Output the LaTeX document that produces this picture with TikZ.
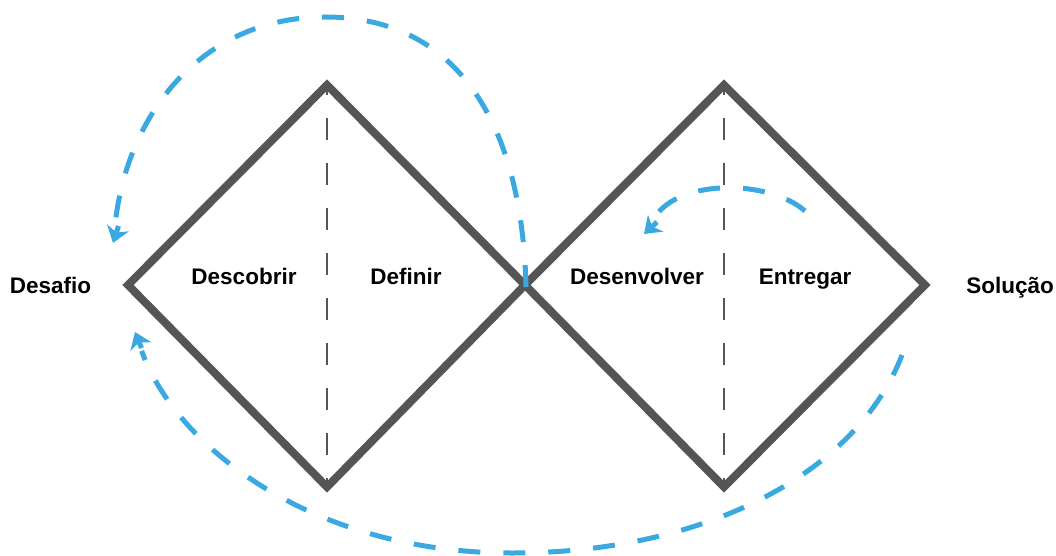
\documentclass[tikz,border=0pt]{standalone}
\usepackage{fontspec}
\setmainfont{Liberation Sans}
\usetikzlibrary{arrows.meta}
\definecolor{framegray}{HTML}{555555}
\definecolor{loopblue}{HTML}{3AA8E1}
\begin{document}
\begin{tikzpicture}[x=1pt,y=-1pt,
  diamondline/.style={draw=framegray,line width=8pt,line join=miter},
  divider/.style={draw=framegray,line width=2pt,dash pattern=on 22pt off 23pt,dash phase=12pt},
  feedback/.style={draw=loopblue,line width=5pt,dash pattern=on 22pt off 23pt,shorten >=20pt},
  feedtip/.style={draw=loopblue,line width=5pt,
    -{Stealth[length=16pt,width=23pt,inset=5pt,line width=0pt]}},
  label/.style={font=\bfseries\fontsize{22.5}{24}\selectfont,anchor=base,inner sep=0pt}]
\useasboundingbox (0,0) rectangle (1056,556);
% diamond vertices
\coordinate (L1) at (128,285);
\coordinate (T1) at (327,85);
\coordinate (B1) at (327,487);
\coordinate (M)  at (525,285);
\coordinate (T2) at (724,85);
\coordinate (B2) at (724,487);
\coordinate (R2) at (925,285);
% dashed dividers inside each diamond
\draw[divider] (T1) -- (B1);
\draw[divider] (T2) -- (B2);
% the two diamonds
\draw[diamondline] (L1) -- (T1) -- (M) -- (B1) -- cycle;
\draw[diamondline] (M) -- (T2) -- (R2) -- (B2) -- cycle;
% loop points: start, apex, tip and tail of each arrowhead
\coordinate (a0) at (526,287);
\coordinate (a1) at (325,17);
\coordinate (a2) at (113,243);
\coordinate (a3) at (118.5,226);
\coordinate (b0) at (902,355);
\coordinate (b1) at (512,553);
\coordinate (b2) at (135,332);
\coordinate (b3) at (141.5,348);
\coordinate (c0) at (805,211);
\coordinate (c2) at (644,234);
\coordinate (c3) at (657,222);
% feedback loops
\draw[feedback] (a0) .. controls (522,120) and (455,17) .. (a1)
  .. controls (205,17) and (128,110) .. (a2);
\draw[feedback] (b0) .. controls (858,470) and (710,553) .. (b1)
  .. controls (310,553) and (175,445) .. (b2);
\draw[feedback] (c0) .. controls (770,180) and (680,178) .. (c2);
% arrowheads
\draw[feedtip] (a3) -- (a2);
\draw[feedtip] (b3) -- (b2);
\draw[feedtip] (c3) -- (c2);
% labels
\node[label] (desafio) at (50.5,293) {Desafio};
\node[label] (solucao) at (1010,293) {Solução};
\node[label] (descobrir) at (244,284) {Descobrir};
\node[label] (definir) at (406,284) {Definir};
\node[label] (desenvolver) at (637,284) {Desenvolver};
\node[label] (entregar) at (805,284) {Entregar};
\end{tikzpicture}
\end{document}
